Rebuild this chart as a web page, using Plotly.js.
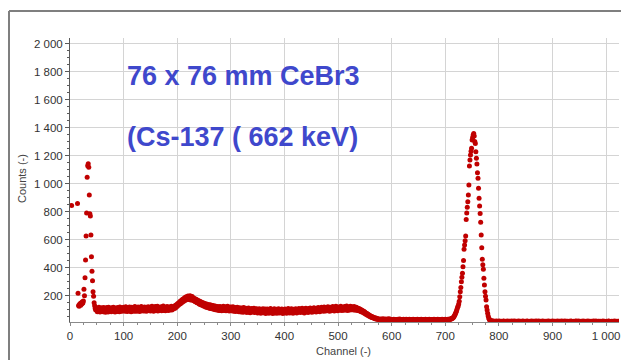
<!DOCTYPE html>
<html>
<head>
<meta charset="utf-8">
<script src="https://cdn.plot.ly/plotly-3.0.1.min.js"></script>
<style>
  html, body { margin: 0; padding: 0; background: #ffffff; }
  #chart { width: 621px; height: 360px; }
</style>
</head>
<body>
<div id="chart"></div>
<script>
// Spectrum: counts per channel, stored per region (channel = start + index)
const lowStart = 0;
const lowCounts = [
  null,null,null,845,null,null,null,null,null,null,
  null,null,null,null,858,217,130,124,138,145,
  132,150,141,156,148,162,246,200,329,455,
  626,790,1046,1128,1142,1118,919,785,770,633,
  479,374,307,229,196,150,128,108,98,104
];

const contStart = 50;
const contCounts = [
  112,85,105,93,118,97,83,109,100,114,
  89,107,86,116,94,103,82,111,91,115,
  98,84,117,96,88,110,101,86,113,95,
  104,118,90,99,84,112,97,108,87,116,
  93,106,85,119,100,91,113,88,104,96,
  117,92,108,88,121,99,106,87,115,101,
  95,120,90,109,86,118,103,94,112,89,
  107,122,96,88,115,101,91,119,98,110,
  87,113,104,123,93,99,116,90,108,120,
  95,111,89,117,102,92,121,98,106,114,
  91,119,103,124,96,110,88,117,105,122,
  94,113,101,125,90,108,118,97,115,99,
  121,93,111,104,126,95,109,117,92,114,
  103,123,98,110,94,120,106,116,100,124,
  97,112,119,104,121,126,110,131,118,137,
  124,145,131,150,138,158,142,163,149,171,
  155,176,160,182,166,188,170,192,174,185,
  197,172,190,178,199,170,188,176,194,168,
  184,163,180,158,177,155,172,150,168,147,
  163,141,160,137,156,134,151,131,149,126,
  146,124,143,119,140,117,138,115,134,112,
  136,111,133,108,131,106,129,104,127,103,
  126,100,124,99,122,98,121,96,119,95,
  122,97,116,92,118,101,124,94,113,99,
  121,93,115,102,125,96,111,91,118,104,
  119,92,112,97,121,89,108,100,116,87,
  110,95,118,90,105,86,114,97,109,84,
  112,93,103,82,115,91,100,85,110,94,
  80,107,89,112,86,99,78,105,92,109,
  83,101,88,110,79,97,104,84,107,90,
  76,101,87,106,80,95,74,103,91,83,
  107,78,96,86,104,73,99,88,105,81,
  93,75,102,85,108,79,97,90,72,100,
  84,106,77,94,89,103,74,98,82,107,
  87,76,101,92,80,105,86,73,99,91,
  78,104,85,96,75,102,88,108,81,94,
  77,100,90,106,83,97,74,103,87,95,
  80,107,89,76,101,93,84,109,86,98,
  79,104,90,110,83,99,94,77,106,88,
  111,85,101,93,80,108,96,87,112,91,
  103,82,109,95,86,114,98,89,106,84,
  111,97,88,115,93,105,86,110,99,117,
  92,113,101,88,119,96,108,90,116,103,
  94,121,99,110,89,118,105,93,114,100,
  123,95,111,91,117,102,124,97,109,93,
  120,104,96,115,99,125,106,94,118,101,
  112,96,122,103,117,98,126,107,95,119,
  104,113,97,124,109,100,121,106,116,98,
  123,103,114,96,118,99,112,94,108,93,
  106,90,101,86,97,84,93,79,88,74,
  83,70,77,65,72,60,67,56,62,52,
  57,48,53,45,49,42,46,39,43,36,
  40,34,38,32,35,30,34,29,32,28,
  33,25,31,22,35,27,30,23,34,26,
  29,21,33,27,24,36,28,22,31,26
];

const baseStart = 600;
const baseCounts = [
  27,30,25,29,32,26,28,24,30,27,
  29,25,31,27,28,33,26,29,24,30,
  28,26,31,27,25,30,28,32,26,29,
  24,29,27,31,26,28,30,25,29,27,
  32,26,28,25,30,27,29,24,31,28,
  26,30,27,29,25,31,28,26,30,27,
  29,24,28,32,26,29,27,30,25,28,
  31,27,29,26,28,24,30,27,29,32,
  26,28,25,30,27,29,31,26,28,30,
  27,29,25,28,32,27,30,26,29,28,
  31,27,29,30,28,32,29,31,30,33,
  32,35
];

const peakStart = 712;
const peakCounts = [
  36,38,41,45,50,56,64,72,81,92,
  104,117,126,141,160,192,229,258,300,332,
  360,407,452,531,562,593,626,745,790,831,
  871,919,990,1126,1169,1205,1232,1253,1312,1330,
  1348,1358,1340,1302,1288,1229,1181,1141,1079,1039,
  967,896,841,788,724,634,543,460,421,389,
  324,276,229,196,169,121,97,74,55,40,
  31,26,22,19,21,18,17,19
];

const tailStart = 790;
const tailCounts = [
  17,15,18,13,16,19,14,17,12,18,
  15,19,14,16,12,18,15,13,17,20,
  14,16,11,18,15,13,19,16,12,17,
  15,18,13,16,20,14,12,17,15,19,
  13,16,18,12,15,17,14,19,13,16,
  18,12,15,17,14,20,13,16,12,18,
  15,13,17,19,14,16,12,15,18,13,
  16,19,14,12,17,15,18,13,16,20,
  14,17,12,15,19,13,16,18,14,12,
  17,15,19,13,16,14,18,12,15,17,
  13,16,20,14,17,12,15,18,13,16,
  19,14,12,17,15,18,13,16,14,19,
  12,15,17,13,18,16,14,20,12,15,
  17,13,16,19,14,12,18,15,17,13,
  16,18,12,15,19,14,17,13,16,12,
  18,15,13,17,20,14,16,12,19,15,
  13,17,16,14,18,12,15,19,13,16,
  17,14,12,18,15,13,19,16,14,17,
  12,16,18,13,15,17,14,20,12,16,
  15,19,13,16,14,18,12,17,15,13,
  18,14,16,12,19,15,13,17,16,14,
  12,18,15,13,17,19,14,16,12,15,
  17,13,16,18,14,12,19,15,13,16,
  18,14,15,17
];

const titleLine1 = "76 x 76 mm CeBr3";
const titleLine2 = "(Cs-137 ( 662 keV)";
const xAxisTitle = "Channel (-)";
const yAxisTitle = "Counts (-)";

// assemble channel/count pairs from the regions
const regions = [
  [lowStart, lowCounts], [contStart, contCounts], [baseStart, baseCounts],
  [peakStart, peakCounts], [tailStart, tailCounts]
];
const channels = [], counts = [];
regions.forEach(([start, arr]) => {
  arr.forEach((v, i) => { channels.push(start + i); counts.push(v); });
});

const tickFont = { family: "Liberation Sans, Arial, sans-serif", size: 11.5, color: "#333333" };

const trace = {
  type: "scatter",
  mode: "markers",
  x: channels,
  y: counts,
  marker: { symbol: "circle", size: 5, color: "#c00000", line: { width: 0 } },
  hoverinfo: "x+y",
  cliponaxis: true
};

// plot area in px: x 70..619, y 38..322
function px2paperX(px) { return (px - 70) / 549; }
function px2paperY(py) { return (322 - py) / 284; }

const layout = {
  width: 621,
  height: 360,
  margin: { l: 70, r: 2, t: 38, b: 38, pad: 0 },
  paper_bgcolor: "#ffffff",
  plot_bgcolor: "#ffffff",
  showlegend: false,
  separators: ". ",
  xaxis: {
    range: [0, 1024],
    tick0: 0, dtick: 100,
    ticks: "outside", ticklen: 3, tickcolor: "#8a8a8a", tickwidth: 1,
    minor: { dtick: 25, ticks: "outside", ticklen: 2, tickcolor: "#8a8a8a", showgrid: false },
    showgrid: true, gridcolor: "#d4d4d4", gridwidth: 1,
    showline: true, linecolor: "#8a8a8a", linewidth: 1,
    zeroline: false,
    separatethousands: true,
    tickfont: tickFont
  },
  yaxis: {
    range: [12, 2041],
    tick0: 0, dtick: 200,
    ticks: "outside", ticklen: 4, tickcolor: "#5a5a5a", tickwidth: 1,
    minor: { dtick: 50, ticks: "outside", ticklen: 2, tickcolor: "#5a5a5a", showgrid: false },
    showgrid: true, gridcolor: "#d4d4d4", gridwidth: 1,
    showline: true, linecolor: "#5a5a5a", linewidth: 1,
    zeroline: false,
    separatethousands: true,
    tickfont: tickFont
  },
  annotations: [
    {
      text: "<b>" + titleLine1 + "</b>", xref: "paper", yref: "paper",
      x: px2paperX(124.7), y: px2paperY(75.8), xanchor: "left", yanchor: "middle",
      showarrow: false,
      font: { family: "Liberation Sans, Arial, sans-serif", size: 27, color: "#3f48cc" }
    },
    {
      text: "<b>" + titleLine2 + "</b>", xref: "paper", yref: "paper",
      x: px2paperX(124.7), y: px2paperY(136.7), xanchor: "left", yanchor: "middle",
      showarrow: false,
      font: { family: "Liberation Sans, Arial, sans-serif", size: 27, color: "#3f48cc" }
    },
    {
      text: xAxisTitle, xref: "paper", yref: "paper",
      x: px2paperX(343), y: px2paperY(350.7), xanchor: "center", yanchor: "middle",
      showarrow: false,
      font: { family: "Liberation Sans, Arial, sans-serif", size: 11, color: "#444444" }
    },
    {
      text: yAxisTitle, xref: "paper", yref: "paper", textangle: -90,
      x: px2paperX(22), y: px2paperY(179), xanchor: "center", yanchor: "middle",
      showarrow: false,
      font: { family: "Liberation Sans, Arial, sans-serif", size: 11, color: "#444444" }
    }
  ],
  shapes: [
    { type: "line", xref: "paper", yref: "paper",
      x0: px2paperX(9), x1: px2paperX(640), y0: px2paperY(11), y1: px2paperY(11),
      line: { color: "#7f7f7f", width: 2 } },
    { type: "line", xref: "paper", yref: "paper",
      x0: px2paperX(9), x1: px2paperX(9), y0: px2paperY(11), y1: px2paperY(380),
      line: { color: "#7f7f7f", width: 2 } }
  ]
};

Plotly.newPlot("chart", [trace], layout, { displayModeBar: false, staticPlot: true });
</script>
</body>
</html>
